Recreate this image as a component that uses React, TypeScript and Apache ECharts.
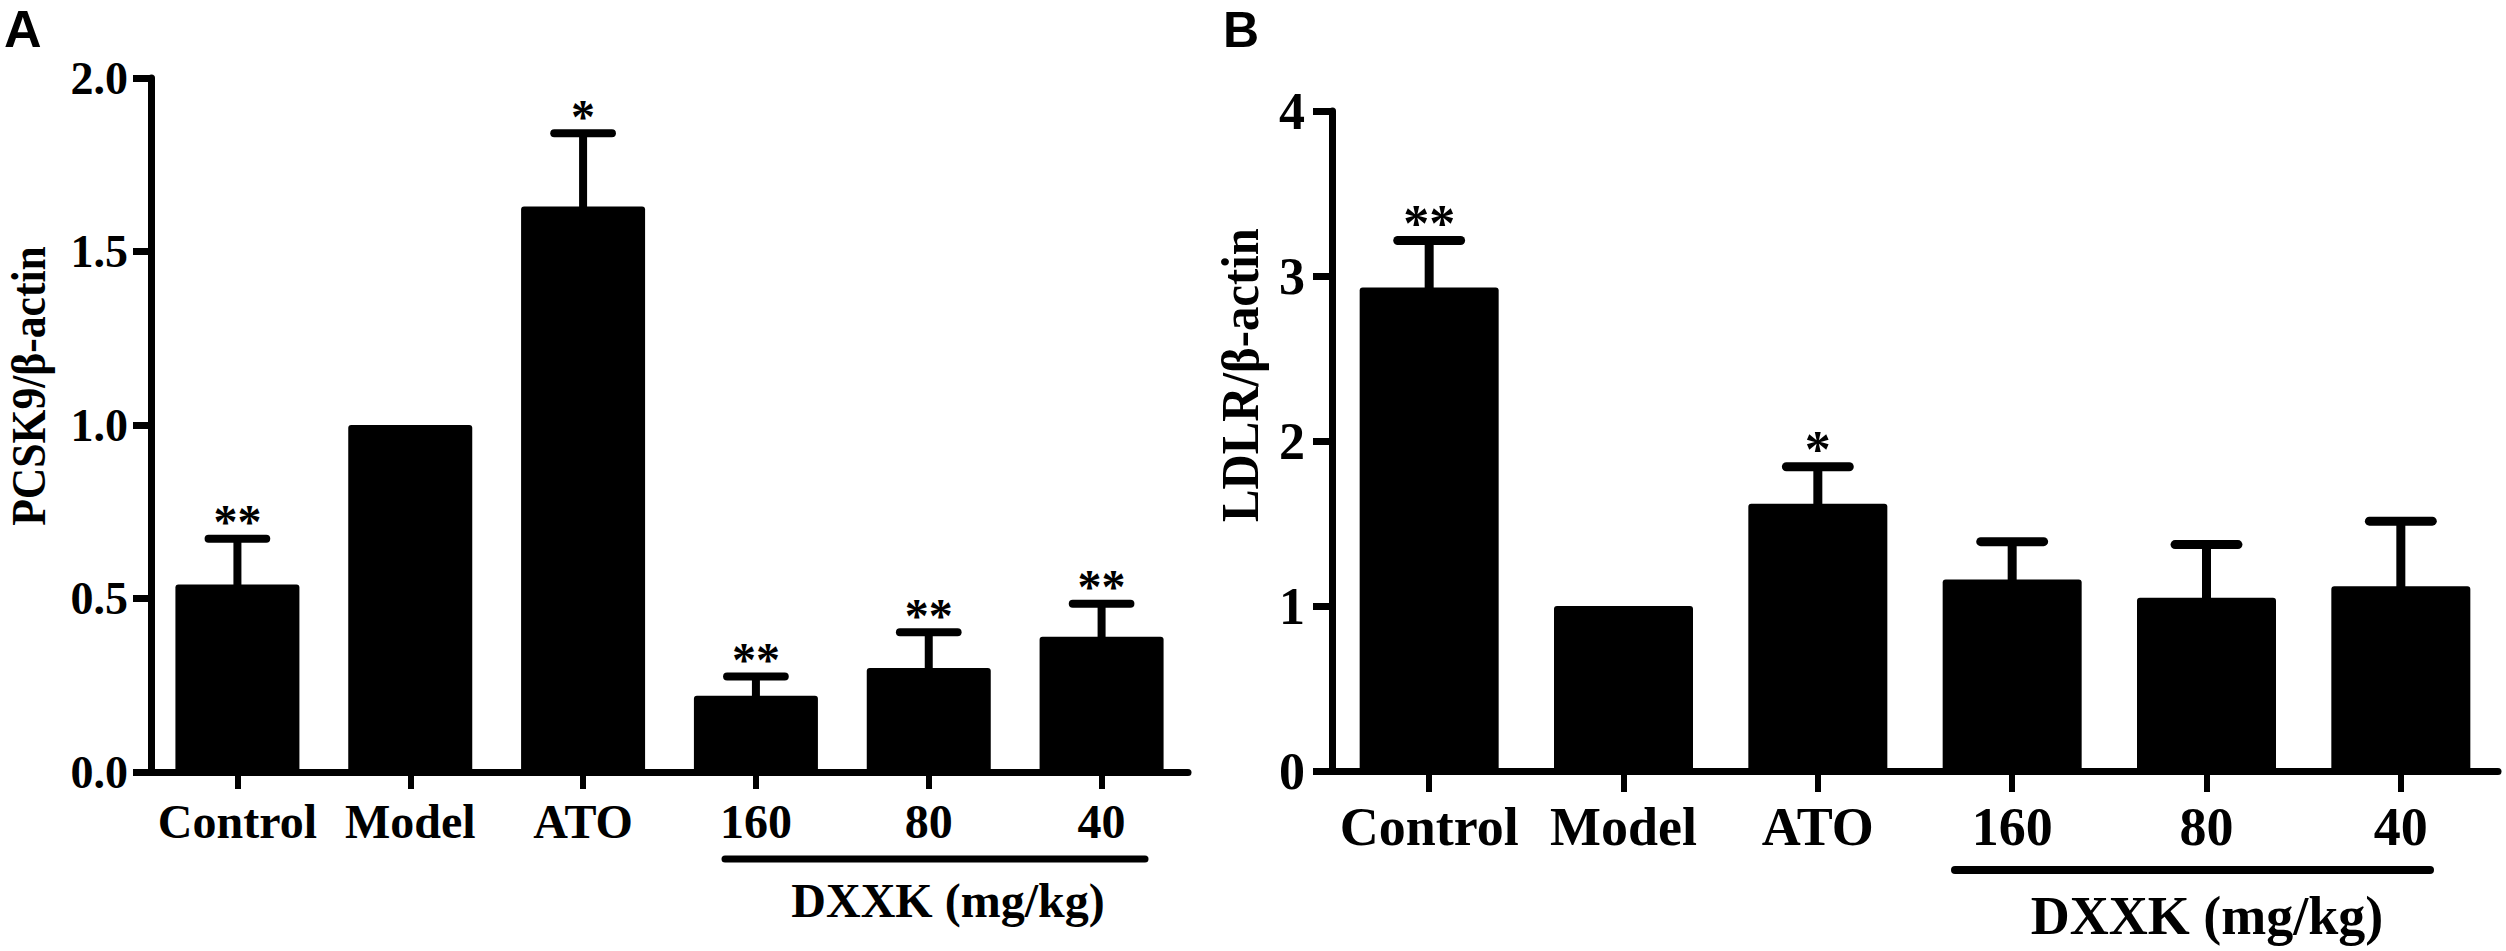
import React, { useEffect, useRef } from "react";
import * as echarts from "echarts";

// ---- data ----
const categories = ["Control", "Model", "ATO", "160", "80", "40"];

const pcsk9Mean = [0.54, 1.0, 1.63, 0.22, 0.3, 0.39];
const pcsk9Err = [0.132, 0, 0.211, 0.055, 0.103, 0.095];
const pcsk9Sig = ["**", "", "*", "**", "**", "**"];
const pcsk9Ticks = { min: 0, max: 2, interval: 0.5 };

const ldlrMean = [2.93, 1.0, 1.62, 1.16, 1.05, 1.12];
const ldlrErr = [0.285, 0, 0.224, 0.23, 0.322, 0.394];
const ldlrSig = ["**", "", "*", "", "", ""];
const ldlrTicks = { min: 0, max: 4, interval: 1 };

const pcsk9Title = "PCSK9/β-actin";
const ldlrTitle = "LDLR/β-actin";
const groupTitle = "DXXK (mg/kg)";

// ---- styles ----
const SERIF = '"Liberation Serif", "Times New Roman", Times, serif';
const SANS = '"Liberation Sans", Arial, Helvetica, sans-serif';

function makeErrorSeries(
  gridIdx: number,
  means: number[],
  errs: number[],
  sigs: string[],
  lineW: number,
  capRatio: number,
  starFont: number,
  starOffset: number
) {
  return {
    type: "custom",
    xAxisIndex: gridIdx,
    yAxisIndex: gridIdx,
    z: 5,
    data: means.map((m, i) => [i, m, errs[i]]),
    renderItem: (params: any, api: any) => {
      const i = api.value(0);
      const m = api.value(1);
      const e = api.value(2);
      const top = api.coord([i, m]);
      const cap = api.coord([i, m + e]);
      const band = api.size([1, 0])[0];
      const half = (band * capRatio) / 2;
      const x = top[0];
      const children: any[] = [];
      if (e > 0) {
        children.push({
          type: "line",
          shape: { x1: x, y1: top[1] + 2, x2: x, y2: cap[1] },
          style: { stroke: "#000", lineWidth: lineW, lineCap: "butt" },
        });
        children.push({
          type: "line",
          shape: { x1: x - half + lineW / 2, y1: cap[1], x2: x + half - lineW / 2, y2: cap[1] },
          style: { stroke: "#000", lineWidth: lineW, lineCap: "round" },
        });
      }
      const sig = sigs[params.dataIndex];
      if (sig) {
        children.push({
          type: "text",
          x: x,
          y: cap[1] - starOffset,
          style: {
            text: sig,
            fontFamily: SERIF,
            fontWeight: "bold",
            fontSize: starFont,
            fill: "#000",
            align: "center",
            verticalAlign: "middle",
          },
        });
      }
      return { type: "group", children };
    },
  };
}

function xAxisFor(gridIdx: number, fontSize: number, margin: number, tickLen: number) {
  return {
    type: "category",
    gridIndex: gridIdx,
    data: categories,
    boundaryGap: true,
    axisLine: { show: true, lineStyle: { color: "#000", width: 7 } },
    axisTick: { show: true, alignWithLabel: true, length: tickLen, lineStyle: { color: "#000", width: 6 } },
    axisLabel: {
      interval: 0,
      margin,
      color: "#000",
      fontFamily: SERIF,
      fontWeight: "bold",
      fontSize,
    },
    splitLine: { show: false },
  };
}

function yAxisFor(
  gridIdx: number,
  t: { min: number; max: number; interval: number },
  fontSize: number,
  margin: number,
  tickLen: number,
  decimals: number
) {
  return {
    type: "value",
    gridIndex: gridIdx,
    min: t.min,
    max: t.max,
    interval: t.interval,
    axisLine: { show: true, lineStyle: { color: "#000", width: 7 } },
    axisTick: { show: true, length: tickLen, lineStyle: { color: "#000", width: 7 } },
    axisLabel: {
      margin,
      color: "#000",
      fontFamily: SERIF,
      fontWeight: "bold",
      fontSize,
      formatter: (v: number) => v.toFixed(decimals),
    },
    splitLine: { show: false },
  };
}

export default function App() {
  const ref = useRef<HTMLDivElement>(null);

  useEffect(() => {
    if (!ref.current) return;
    const chart = echarts.init(ref.current, undefined, { renderer: "svg" });
    const option: any = {
      animation: false,
      backgroundColor: "#fff",
      grid: [
        { left: 151, top: 78, width: 1037, height: 694, containLabel: false },
        { left: 1332, top: 111, width: 1166, height: 660, containLabel: false },
      ],
      xAxis: [xAxisFor(0, 48, 25, 17), xAxisFor(1, 54, 29, 21)],
      yAxis: [yAxisFor(0, pcsk9Ticks, 46, 23, 18, 1), yAxisFor(1, ldlrTicks, 52, 27, 19, 0)],
      series: [
        {
          type: "bar",
          xAxisIndex: 0,
          yAxisIndex: 0,
          data: pcsk9Mean,
          barWidth: 124,
          itemStyle: { color: "#000", borderRadius: 3 },
          z: 2,
        },
        makeErrorSeries(0, pcsk9Mean, pcsk9Err, pcsk9Sig, 8, 0.38, 48, 17),
        {
          type: "bar",
          xAxisIndex: 1,
          yAxisIndex: 1,
          data: ldlrMean,
          barWidth: 139,
          itemStyle: { color: "#000", borderRadius: 3 },
          z: 2,
        },
        makeErrorSeries(1, ldlrMean, ldlrErr, ldlrSig, 9, 0.37, 52, 17),
      ],
      graphic: [
        {
          type: "text",
          x: 4,
          y: 29,
          style: { text: "A", fontFamily: SANS, fontWeight: "bold", fontSize: 52, fill: "#000", align: "left", verticalAlign: "middle" },
        },
        {
          type: "text",
          x: 1223,
          y: 30,
          style: { text: "B", fontFamily: SANS, fontWeight: "bold", fontSize: 50, fill: "#000", align: "left", verticalAlign: "middle" },
        },
        {
          type: "text",
          x: 29,
          y: 386,
          rotation: Math.PI / 2,
          scaleX: 0.89,
          style: { text: pcsk9Title, fontFamily: SERIF, fontWeight: "bold", fontSize: 49, fill: "#000", align: "center", verticalAlign: "middle" },
        },
        {
          type: "text",
          x: 1240,
          y: 375,
          rotation: Math.PI / 2,
          scaleX: 0.92,
          style: { text: ldlrTitle, fontFamily: SERIF, fontWeight: "bold", fontSize: 53, fill: "#000", align: "center", verticalAlign: "middle" },
        },
        {
          type: "line",
          shape: { x1: 725, y1: 859, x2: 1145, y2: 859 },
          style: { stroke: "#000", lineWidth: 7, lineCap: "round" },
        },
        {
          type: "text",
          x: 948,
          y: 900,
          style: { text: groupTitle, fontFamily: SERIF, fontWeight: "bold", fontSize: 48, fill: "#000", align: "center", verticalAlign: "middle" },
        },
        {
          type: "line",
          shape: { x1: 1955, y1: 870, x2: 2430, y2: 870 },
          style: { stroke: "#000", lineWidth: 8, lineCap: "round" },
        },
        {
          type: "text",
          x: 2207,
          y: 916,
          style: { text: groupTitle, fontFamily: SERIF, fontWeight: "bold", fontSize: 54, fill: "#000", align: "center", verticalAlign: "middle" },
        },
      ],
    };
    chart.setOption(option);
    return () => chart.dispose();
  }, []);

  return (
    <div
      ref={ref}
      style={{ position: "absolute", left: 0, top: 0, width: 2506, height: 951, background: "#fff" }}
    />
  );
}
